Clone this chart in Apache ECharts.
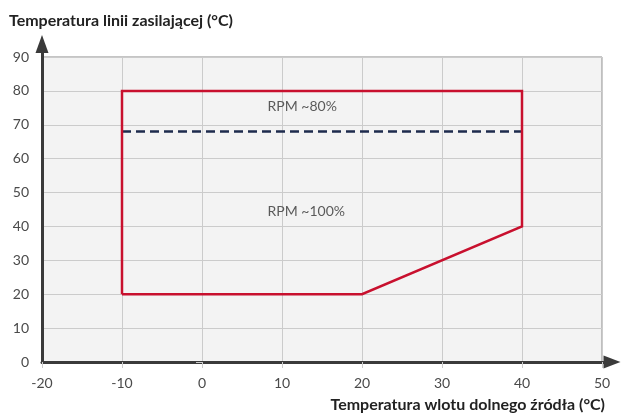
<!DOCTYPE html>
<html>
<head>
<meta charset="utf-8">
<style>
  html, body { margin: 0; padding: 0; background: #fff; }
  #chart { width: 623px; height: 419px; }
</style>
<script src="https://cdn.jsdelivr.net/npm/echarts@6/dist/echarts.min.js"></script>
</head>
<body>
<div id="chart"></div>
<script>
// envelope of the operating range (inlet temp, supply temp)
const envelope = [[-10, 20], [-10, 80], [40, 80], [40, 40], [20, 20], [-10, 20]]
// RPM ~80% boundary
const rpmLine = [[-10, 68], [40, 68]]
const notes = [
  { name: 'RPM ~80%', value: [8.2, 75.3] },
  { name: 'RPM ~100%', value: [8.2, 44.3] }
]
const xName = 'Temperatura wlotu dolnego źródła (°C)'
const yName = 'Temperatura linii zasilającej (°C)'

const font = 'Lato, "Noto Sans", sans-serif'
const gridColor = '#cbcbcb'

const chart = echarts.init(document.getElementById('chart'))

chart.setOption({
  animation: false,
  textStyle: { fontFamily: font },
  title: [
    {
      text: yName,
      left: 4,
      top: 8,
      textStyle: { fontSize: 16, fontWeight: 'bold', color: '#222', fontFamily: font }
    },
    {
      text: xName,
      right: 13,
      bottom: 1,
      textStyle: { fontSize: 16, fontWeight: 'bold', color: '#222', fontFamily: font }
    }
  ],
  grid: [
    {
      left: 42, right: 21, top: 57, bottom: 57,
      show: true,
      backgroundColor: '#f3f3f3',
      borderColor: '#8a8a8a',
      borderWidth: 1
    },
    // only for the arrowed axis lines
    { left: 42, right: 11, top: 44, bottom: 57 }
  ],
  xAxis: [
    {
      type: 'value', gridIndex: 0, min: -20, max: 50, interval: 10,
      axisLine: { show: false },
      axisTick: { show: true, length: 6, lineStyle: { color: gridColor } },
      axisLabel: { margin: 14, fontSize: 14, color: '#4a4a4a', fontFamily: font },
      splitLine: { show: true, lineStyle: { color: gridColor, width: 1 } }
    },
    {
      type: 'value', gridIndex: 1, min: 0, max: 1,
      axisLine: {
        show: true, onZero: false,
        symbol: ['none', 'triangle'], symbolSize: [13, 17],
        lineStyle: { color: '#3a3a3a', width: 3 }
      },
      axisTick: { show: false }, axisLabel: { show: false }, splitLine: { show: false }
    }
  ],
  yAxis: [
    {
      type: 'value', gridIndex: 0, min: 0, max: 90, interval: 10,
      axisLine: { show: false },
      axisTick: { show: true, length: 6, lineStyle: { color: gridColor } },
      axisLabel: { margin: 13, fontSize: 14, color: '#4a4a4a', fontFamily: font },
      splitLine: { show: true, lineStyle: { color: gridColor, width: 1 } }
    },
    {
      type: 'value', gridIndex: 1, min: 0, max: 1,
      axisLine: {
        show: true, onZero: false,
        symbol: ['none', 'triangle'], symbolSize: [13, 18],
        lineStyle: { color: '#3a3a3a', width: 3 }
      },
      axisTick: { show: false }, axisLabel: { show: false }, splitLine: { show: false }
    }
  ],
  series: [
    {
      type: 'line',
      data: envelope,
      xAxisIndex: 0, yAxisIndex: 0,
      symbol: 'none',
      lineStyle: { color: '#c8102e', width: 2.5, join: 'miter' },
      z: 5
    },
    {
      type: 'line',
      data: rpmLine,
      xAxisIndex: 0, yAxisIndex: 0,
      symbol: 'none',
      lineStyle: { color: '#1e2b4d', width: 2.5, type: [9, 5] },
      z: 4
    },
    {
      type: 'scatter',
      data: notes,
      xAxisIndex: 0, yAxisIndex: 0,
      symbolSize: 0,
      label: {
        show: true,
        position: 'right',
        distance: 0,
        formatter: '{b}',
        fontSize: 14,
        color: '#333',
        fontFamily: font
      },
      z: 6
    }
  ]
})
</script>
</body>
</html>
